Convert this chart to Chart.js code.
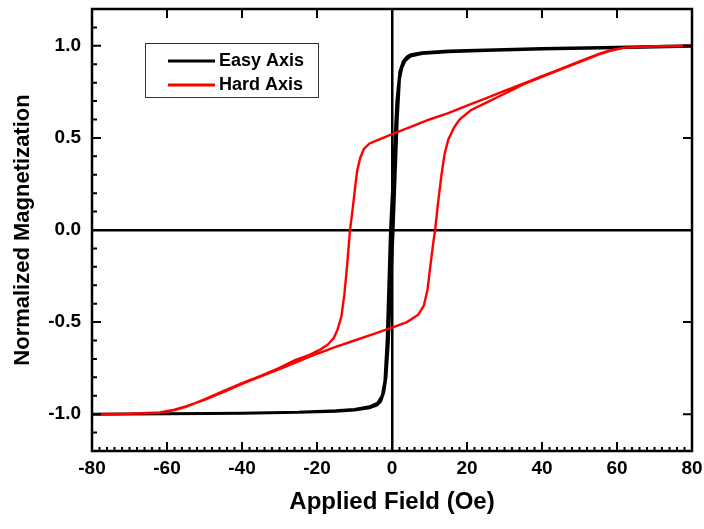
<!DOCTYPE html>
<html>
<head>
<meta charset="utf-8">
<script src="https://cdn.jsdelivr.net/npm/chart.js@4.4.1/dist/chart.umd.min.js"></script>
<style>
  html, body { margin: 0; padding: 0; background: #fff; }
</style>
</head>
<body>
<canvas id="loops" width="704" height="529"></canvas>
<script>
////////////////// Data ///////////////////////

// Easy axis, field swept up (-80 -> 80 Oe)
const easyUpField = [-80, -60, -40, -25, -15, -10, -6, -4, -3, -2.2, -1.6, -1.0, 0.3, 1.4, 2.0, 2.6, 3.5, 5, 8, 15, 25, 40, 60, 80];
const easyUpMag = [-1.0, -0.998, -0.995, -0.99, -0.984, -0.978, -0.965, -0.95, -0.93, -0.88, -0.8, -0.62, 0.0, 0.6, 0.82, 0.88, 0.92, 0.945, 0.958, 0.968, 0.975, 0.983, 0.99, 0.998];

// Easy axis, field swept down (80 -> -80 Oe)
const easyDownField = [80, 60, 40, 25, 15, 8, 5, 4, 3, 2.1, 1.3, 0.7, -0.4, -1.3, -1.9, -2.6, -3.8, -6, -10, -15, -25, -40, -60, -80];
const easyDownMag = [1.0, 0.992, 0.985, 0.978, 0.972, 0.963, 0.952, 0.94, 0.915, 0.86, 0.7, 0.45, 0.0, -0.6, -0.82, -0.9, -0.94, -0.96, -0.975, -0.982, -0.99, -0.995, -0.998, -1.0];

// Hard axis, field swept up
const hardUpField = [-80, -70, -62, -58, -55, -50, -45, -40, -35, -30, -25, -20, -15, -10, -5, 0, 4, 7, 8.5, 9.5, 10.2, 11, 11.5, 12.3, 13.2, 14, 15, 16.5, 18, 21, 25, 30, 35, 40, 45, 50, 55, 58, 62, 70, 80];
const hardUpMag = [-1.0, -0.998, -0.99, -0.975, -0.958, -0.922, -0.88, -0.835, -0.795, -0.755, -0.713, -0.672, -0.635, -0.6, -0.565, -0.53, -0.5, -0.46, -0.41, -0.32, -0.2, -0.07, 0.0, 0.15, 0.3, 0.41, 0.49, 0.555, 0.6, 0.65, 0.69, 0.74, 0.79, 0.832, 0.872, 0.912, 0.952, 0.972, 0.99, 0.996, 1.0];

// Hard axis, field swept down
const hardDownField = [80, 70, 62, 58, 55, 50, 45, 40, 35, 30, 25, 20, 15, 10, 5, 0, -3, -6, -7.5, -8.5, -9.3, -10, -10.7, -11.2, -12, -12.7, -13.5, -14.5, -15.5, -17, -19, -22, -26, -30, -35, -40, -45, -50, -55, -58, -62, -70, -80];
const hardDownMag = [1.0, 0.998, 0.99, 0.975, 0.955, 0.915, 0.875, 0.835, 0.795, 0.755, 0.715, 0.675, 0.635, 0.6, 0.56, 0.52, 0.495, 0.47, 0.44, 0.39, 0.32, 0.2, 0.08, 0.0, -0.2, -0.35, -0.47, -0.54, -0.585, -0.62, -0.648, -0.678, -0.708, -0.748, -0.792, -0.832, -0.875, -0.92, -0.96, -0.978, -0.992, -0.998, -1.0];

const fieldTicks = [-80, -60, -40, -20, 0, 20, 40, 60, 80];
const magTicks = [-1.0, -0.5, 0.0, 0.5, 1.0];

////////////////// Helpers ///////////////////////

const FONT = '"Liberation Sans", Arial, sans-serif';

// one closed loop: up sweep followed by down sweep
const loop = (upF, upM, downF, downM) =>
  upF.map((f, i) => ({ x: f, y: upM[i] }))
    .concat(downF.map((f, i) => ({ x: f, y: downM[i] })));

// only the zero lines are drawn from the grid
const zeroLine = (c) => (c.tick && c.tick.value === 0 ? "#000" : "rgba(0,0,0,0)");

// labels may hang past the frame, don't shrink the plot for them
const noLabelPadding = (s) => {
  s.paddingTop = 0;
  s.paddingBottom = 0;
  s.paddingLeft = 0;
  s.paddingRight = 0;
};

// frame with inward major / minor ticks
const frameTicks = {
  id: "frameTicks",
  afterDraw(chart) {
    const { ctx, chartArea: a, scales: { x, y } } = chart;
    ctx.save();
    ctx.strokeStyle = "#000";
    ctx.lineWidth = 2;
    ctx.beginPath();
    for (let v = -80; v <= 80; v += 2) {
      const px = x.getPixelForValue(v);
      const major = v % 20 === 0;
      ctx.moveTo(px, a.bottom);
      ctx.lineTo(px, a.bottom - (major ? 9 : 4));
      if (major) {
        ctx.moveTo(px, a.top);
        ctx.lineTo(px, a.top + 9);
      }
    }
    for (let i = -12; i <= 12; i++) {
      const py = y.getPixelForValue(i / 10);
      const major = i % 5 === 0;
      ctx.moveTo(a.left, py);
      ctx.lineTo(a.left + (major ? 9 : 5), py);
      if (major) {
        ctx.moveTo(a.right, py);
        ctx.lineTo(a.right - 9, py);
      }
    }
    ctx.stroke();
    ctx.lineWidth = 2.5;
    ctx.strokeRect(a.left, a.top, a.right - a.left, a.bottom - a.top);
    ctx.restore();
  },
};

// boxed legend in the upper left of the plot
const boxLegend = {
  id: "boxLegend",
  afterDraw(chart) {
    const ctx = chart.ctx;
    ctx.save();
    ctx.strokeStyle = "#333";
    ctx.lineWidth = 1;
    ctx.strokeRect(145.5, 43.5, 173, 54);
    ctx.font = "bold 18px " + FONT;
    ctx.textBaseline = "middle";
    chart.data.datasets.forEach((ds, i) => {
      const ly = 61 + i * 24;
      ctx.strokeStyle = ds.borderColor;
      ctx.lineWidth = 3;
      ctx.beginPath();
      ctx.moveTo(168, ly);
      ctx.lineTo(215, ly);
      ctx.stroke();
      ctx.fillStyle = "#000";
      ctx.fillText(ds.label, 219, ly);
    });
    ctx.restore();
  },
};

////////////////// Chart ///////////////////////

const tickFont = { family: FONT, size: 19, weight: "bold" };
const titleFont = { family: FONT, size: 24, weight: "bold" };

new Chart(document.getElementById("loops"), {
  type: "scatter",
  data: {
    datasets: [
      {
        label: "Easy Axis",
        data: loop(easyUpField, easyUpMag, easyDownField, easyDownMag),
        borderColor: "#000",
        borderWidth: 3,
        order: 1,
      },
      {
        label: "Hard Axis",
        data: loop(hardUpField, hardUpMag, hardDownField, hardDownMag),
        borderColor: "#ff0000",
        borderWidth: 2.4,
        order: 0,
      },
    ],
  },
  options: {
    responsive: false,
    animation: false,
    showLine: true,
    elements: { point: { radius: 0 }, line: { tension: 0 } },
    layout: { padding: { top: 9, right: 12, left: 0, bottom: 0 } },
    plugins: { legend: { display: false }, tooltip: { enabled: false } },
    scales: {
      x: {
        type: "linear",
        min: -80,
        max: 80,
        z: 1,
        afterBuildTicks: (s) => { s.ticks = fieldTicks.map((v) => ({ value: v })); },
        afterFit: (s) => { s.height = 78; noLabelPadding(s); },
        ticks: { font: tickFont, color: "#000", padding: 6, maxRotation: 0, autoSkip: false, callback: (v) => String(v) },
        grid: { color: zeroLine, lineWidth: 2.5, drawTicks: false },
        border: { display: false },
        title: { display: true, text: "Applied Field (Oe)", color: "#000", font: titleFont, padding: { top: 0, bottom: 12 } },
      },
      y: {
        type: "linear",
        min: -1.2,
        max: 1.2,
        z: 1,
        afterBuildTicks: (s) => { s.ticks = magTicks.map((v) => ({ value: v })); },
        afterFit: (s) => { s.width = 92; noLabelPadding(s); },
        ticks: { font: tickFont, color: "#000", padding: 11, autoSkip: false, callback: (v) => v.toFixed(1) },
        grid: { color: zeroLine, lineWidth: 2.5, drawTicks: false },
        border: { display: false },
        title: { display: true, text: "Normalized Magnetization", color: "#000", font: { family: FONT, size: 22, weight: "bold" }, padding: { top: 10, bottom: 0 } },
      },
    },
  },
  plugins: [frameTicks, boxLegend],
});
</script>
</body>
</html>
